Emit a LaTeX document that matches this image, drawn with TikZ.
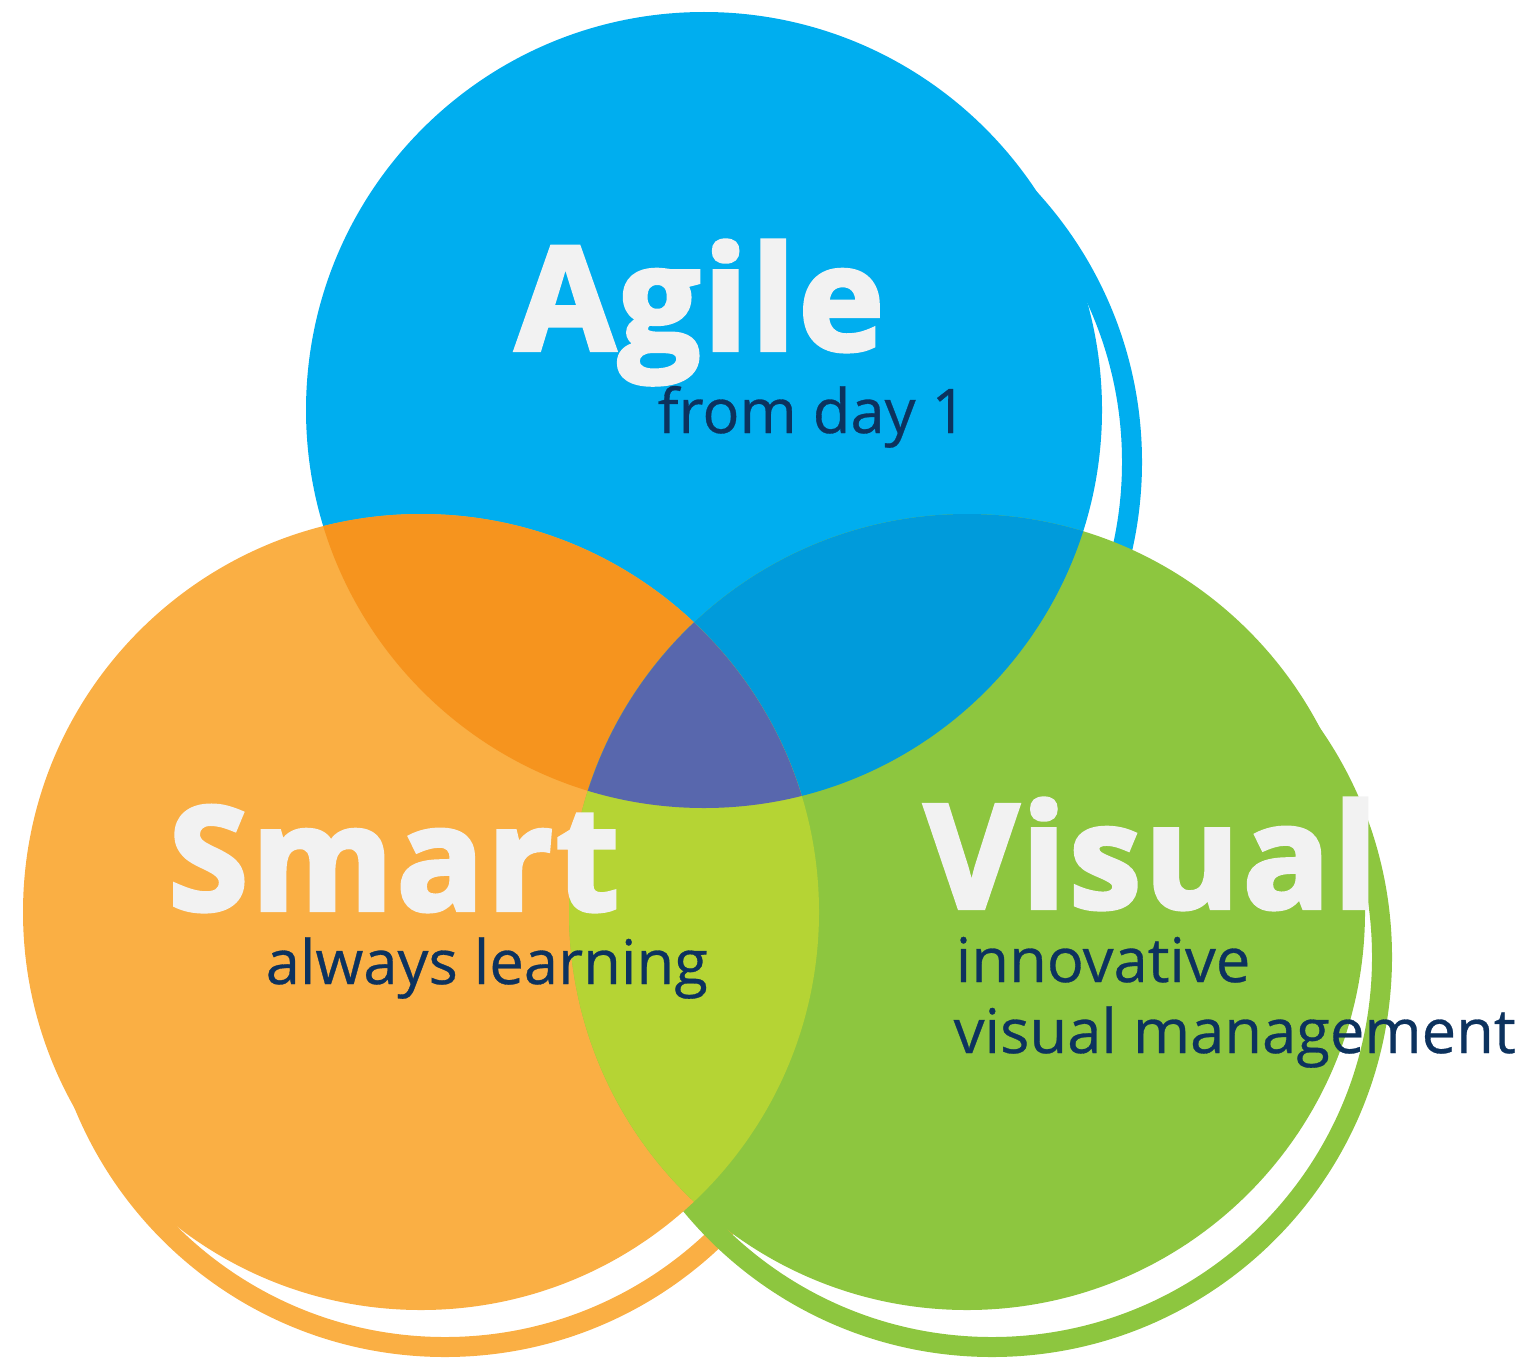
\documentclass[tikz,border=0pt]{standalone}
\usepackage{fontspec}
\setmainfont{Open Sans}
\newfontfamily\titlefont{Open Sans}[BoldFeatures={FakeBold=3,LetterSpace=2.5}]
\newfontfamily\subfont{Open Sans}[FakeBold=0.5]

\definecolor{agileblue}{RGB}{0,174,239}
\definecolor{smartorange}{RGB}{250,175,68}
\definecolor{visualgreen}{RGB}{141,198,63}
\definecolor{agilesmart}{RGB}{246,148,30}
\definecolor{agilevisual}{RGB}{0,155,219}
\definecolor{smartvisual}{RGB}{181,212,52}
\definecolor{allthree}{RGB}{88,103,173}
\definecolor{titlegrey}{RGB}{242,242,242}
\definecolor{subnavy}{RGB}{12,50,94}

\tikzset{
  ring/.style={line width=0.2cm},
  title/.style={anchor=base west, inner sep=0pt, text=titlegrey,
    font=\titlefont\bfseries\fontsize{41}{44}\selectfont},
  subtitle/.style={anchor=base west, inner sep=0pt, text=subnavy,
    font=\subfont\fontsize{17.5}{20}\selectfont},
}

\begin{document}
\begin{tikzpicture}
    \useasboundingbox (0,0) rectangle (15.28,-13.57);

    % offset rings behind the circles
    \draw[ring, agileblue] (7.42,-4.62) circle (3.90);
    \draw[ring, smartorange] (4.45,-9.57) circle (3.90);
    \draw[ring, visualgreen] (9.92,-9.57) circle (3.90);

    % the three circles
    \fill[agileblue] (7.04,-4.10) circle (3.98);
    \fill[smartorange] (4.21,-9.12) circle (3.98);
    \fill[visualgreen] (9.67,-9.12) circle (3.98);

    % overlaps with the top circle
    \begin{scope}
      \clip (7.04,-4.10) circle (3.98);
      \fill[agilesmart] (4.21,-9.12) circle (3.98);
      \fill[agilevisual] (9.67,-9.12) circle (3.98);
    \end{scope}
    % overlap of the two lower circles, and the middle
    \begin{scope}
      \clip (4.21,-9.12) circle (3.98);
      \fill[smartvisual] (9.67,-9.12) circle (3.98);
      \clip (7.04,-4.10) circle (3.98);
      \fill[allthree] (9.67,-9.12) circle (3.98);
    \end{scope}

    % labels
    \node[title] (agile) at (5.15,-3.50) {Agile};
    \node[subtitle] (agilesub) at (6.57,-4.33) {from day 1};
    \node[title] (smart) at (1.68,-9.10) {Smart};
    \node[subtitle] (smartsub) at (2.65,-9.84) {always learning};
    \node[title] (visual) at (9.24,-9.08) {Visual};
    \node[subtitle] (visualsub) at (9.55,-9.82) {innovative};
    \node[subtitle] (visualsubtwo) at (9.53,-10.53) {visual management};
  \end{tikzpicture}
\end{document}
